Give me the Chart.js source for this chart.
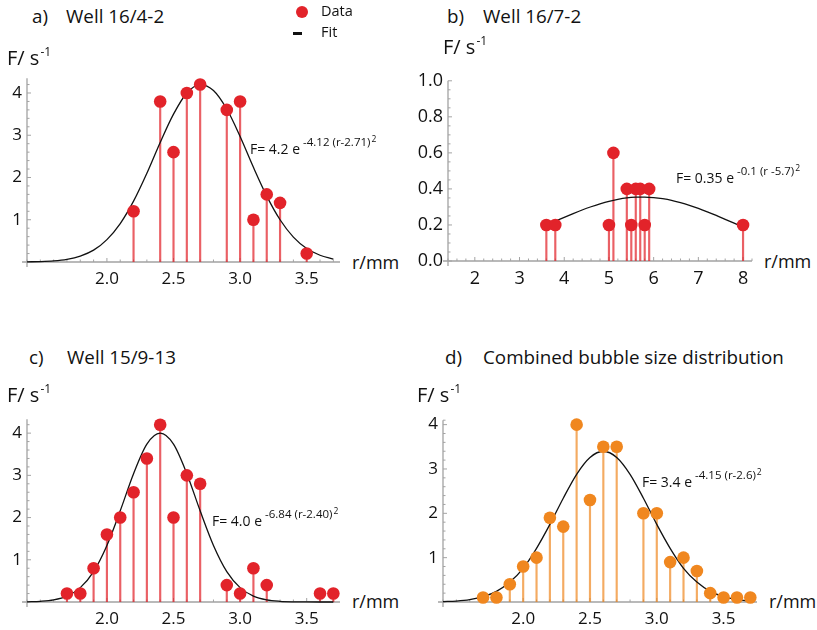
<!DOCTYPE html>
<html>
<head>
<meta charset="utf-8">
<script src="https://cdn.jsdelivr.net/npm/chart.js@4.4.0/dist/chart.umd.min.js"></script>
<style>
body { margin: 0; background: #fff; }
#fig { position: relative; width: 817px; height: 630px; overflow: hidden; font-family: "Open Sans", sans-serif; color: #111; }
#fig canvas { position: absolute; }
.t { position: absolute; white-space: nowrap; line-height: 1; }
</style>
</head>
<body>
<div id="fig"></div>
<script>
// panel a) Well 16/4-2
const rA = [2.2, 2.4, 2.5, 2.6, 2.7, 2.9, 3.0, 3.1, 3.2, 3.3, 3.5];
const fA = [1.2, 3.8, 2.6, 4.0, 4.2, 3.6, 3.8, 1.0, 1.6, 1.4, 0.2];
const fitRA = [1.4, 1.5, 1.6, 1.7, 1.8, 1.9, 2.0, 2.1, 2.2, 2.3, 2.4, 2.5, 2.6, 2.7, 2.8, 2.9, 3.0, 3.1, 3.2, 3.3, 3.4, 3.5, 3.6, 3.7];
const fitFA = [0.004, 0.01, 0.026, 0.063, 0.14, 0.28, 0.53, 0.91, 1.44, 2.10, 2.83, 3.50, 4.00, 4.20, 4.06, 3.62, 2.97, 2.24, 1.56, 1.00, 0.59, 0.32, 0.16, 0.07];

// panel b) Well 16/7-2
const rB = [3.6, 3.8, 5.0, 5.1, 5.4, 5.5, 5.6, 5.7, 5.8, 5.9, 8.0];
const fB = [0.2, 0.2, 0.2, 0.6, 0.4, 0.2, 0.4, 0.4, 0.2, 0.4, 0.2];
const fitRB = [3.6, 3.8, 4.0, 4.2, 4.4, 4.6, 4.8, 5.0, 5.2, 5.4, 5.6, 5.8, 6.0, 6.2, 6.4, 6.6, 6.8, 7.0, 7.2, 7.4, 7.6, 7.8, 8.0];
const fitFB = [0.199, 0.221, 0.242, 0.263, 0.283, 0.301, 0.317, 0.331, 0.342, 0.350, 0.354, 0.355, 0.352, 0.346, 0.337, 0.324, 0.309, 0.292, 0.273, 0.253, 0.231, 0.210, 0.189];

// panel c) Well 15/9-13
const rC = [1.7, 1.8, 1.9, 2.0, 2.1, 2.2, 2.3, 2.4, 2.5, 2.6, 2.7, 2.9, 3.0, 3.1, 3.2, 3.6, 3.7];
const fC = [0.2, 0.2, 0.8, 1.6, 2.0, 2.6, 3.4, 4.2, 2.0, 3.0, 2.8, 0.4, 0.2, 0.8, 0.4, 0.2, 0.2];
const fitRC = fitRA;
const fitFC = [0.004, 0.016, 0.05, 0.14, 0.34, 0.72, 1.34, 2.16, 3.04, 3.74, 4.00, 3.74, 3.04, 2.16, 1.34, 0.72, 0.34, 0.14, 0.05, 0.016, 0.004, 0.001, 0, 0];

// panel d) combined
const rD = [1.7, 1.8, 1.9, 2.0, 2.1, 2.2, 2.3, 2.4, 2.5, 2.6, 2.7, 2.9, 3.0, 3.1, 3.2, 3.3, 3.4, 3.5, 3.6, 3.7];
const fD = [0.1, 0.1, 0.4, 0.8, 1.0, 1.9, 1.7, 4.0, 2.3, 3.5, 3.5, 2.0, 2.0, 0.9, 1.0, 0.7, 0.2, 0.1, 0.1, 0.1];
const fitRD = fitRA;
const fitFD = [0.009, 0.022, 0.054, 0.12, 0.24, 0.45, 0.76, 1.21, 1.75, 2.34, 2.88, 3.26, 3.40, 3.26, 2.88, 2.34, 1.75, 1.21, 0.76, 0.45, 0.24, 0.12, 0.054, 0.022];

// tick labels
const xTicksR = [2.0, 2.5, 3.0, 3.5];
const yTicksF = [1, 2, 3, 4];
const xTicksB = [2, 3, 4, 5, 6, 7, 8];
const yTicksB = [0.0, 0.2, 0.4, 0.6, 0.8, 1.0];

const RED = '#e2232a', RED_STEM = 'rgba(226,35,42,0.72)';
const ORANGE = '#f0871f', ORANGE_STEM = 'rgba(240,135,31,0.7)';
const AXIS = '#a3a3a3';
const fig = document.getElementById('fig');

const zip = (xs, ys) => xs.map((x, i) => ({x: x, y: ys[i]}));

function tickLabel(list, fmt) {
    return function (v) {
        const hit = list.find(t => Math.abs(t - v) < 1e-6);
        return hit === undefined ? '' : fmt(hit);
    };
}

// little inward tick marks like the original plot, placed from the scales' ticks
const inwardTicks = {
    id: 'inwardTicks',
    beforeDatasetsDraw(chart) {
        const {ctx, chartArea: a, scales: {x, y}} = chart;
        ctx.save();
        ctx.strokeStyle = AXIS;
        ctx.lineWidth = 1.3;
        ctx.beginPath();
        ctx.moveTo(a.left - 5, a.bottom);
        ctx.lineTo(a.right, a.bottom);
        ctx.moveTo(a.left, a.top);
        ctx.lineTo(a.left, a.bottom + 5);
        ctx.stroke();
        ctx.lineWidth = 1;
        ctx.beginPath();
        x.ticks.forEach((t, i) => {
            const px = x.getPixelForTick(i);
            ctx.moveTo(px, a.bottom);
            ctx.lineTo(px, a.bottom - (t.label ? 4 : 2.5));
        });
        y.ticks.forEach((t, i) => {
            const py = y.getPixelForTick(i);
            ctx.moveTo(a.left, py);
            ctx.lineTo(a.left + (t.label ? 4 : 2.5), py);
        });
        ctx.stroke();
        ctx.restore();
    }
};

function makePanel(p) {
    const PT = 15, HX = 40, PR = 12;
    const [cl, ct, cr, cb] = p.area;
    const canvas = document.createElement('canvas');
    canvas.width = cr - cl + p.wy + PR;
    canvas.height = cb - ct + PT + HX;
    canvas.style.left = (cl - p.wy) + 'px';
    canvas.style.top = (ct - PT) + 'px';
    fig.appendChild(canvas);

    const pts = zip(p.r, p.f);
    const tickFont = {family: 'Open Sans', size: p.fs};

    new Chart(canvas, {
        type: 'bar',
        data: {
            datasets: [
                {
                    type: 'line', data: pts, showLine: false, order: 0, clip: false,
                    pointRadius: 6.3, pointBackgroundColor: p.color, pointBorderWidth: 0
                },
                {
                    type: 'line', data: zip(p.fitR, p.fitF), order: 1, clip: false,
                    borderColor: '#111', borderWidth: 1.3, pointRadius: 0,
                    cubicInterpolationMode: 'monotone'
                },
                {
                    type: 'bar', data: pts, order: 2,
                    backgroundColor: p.stem, borderWidth: 0, barThickness: 1.5
                }
            ]
        },
        options: {
            responsive: false,
            animation: false,
            events: [],
            layout: {padding: {left: 0, top: PT, right: PR, bottom: 0}},
            plugins: {legend: {display: false}, tooltip: {enabled: false}},
            scales: {
                x: {
                    type: 'linear', min: p.xmin, max: p.xmax, bounds: 'data', offset: false,
                    afterFit: s => { s.height = HX; },
                    border: {display: false},
                    grid: {display: false, drawTicks: false},
                    ticks: {
                        stepSize: p.xstep, autoSkip: false, includeBounds: false,
                        maxRotation: 0, minRotation: 0, padding: 7,
                        color: '#111', font: tickFont,
                        callback: tickLabel(p.xt, p.xfmt)
                    }
                },
                y: {
                    type: 'linear', min: 0, max: p.ymax, bounds: 'data',
                    afterFit: s => { s.width = p.wy; },
                    border: {display: false},
                    grid: {display: false, drawTicks: false},
                    ticks: {
                        stepSize: p.ystep, autoSkip: false, includeBounds: false, padding: 5,
                        color: '#111', font: tickFont,
                        callback: tickLabel(p.yt, p.yfmt)
                    }
                }
            }
        },
        plugins: [inwardTicks]
    });
}

const fmt1 = v => v.toFixed(1);
const fmt0 = v => String(v);

makePanel({area: [27, 78, 340, 262], wy: 27, fs: 17, r: rA, f: fA, fitR: fitRA, fitF: fitFA,
    color: RED, stem: RED_STEM, xmin: 1.4, xmax: 3.75, xstep: 0.1, ymax: 4.35, ystep: 0.2,
    xt: xTicksR, xfmt: fmt1, yt: yTicksF, yfmt: fmt0});
makePanel({area: [448, 80, 752, 261], wy: 40, fs: 18, r: rB, f: fB, fitR: fitRB, fitF: fitFB,
    color: RED, stem: RED_STEM, xmin: 1.4, xmax: 8.2, xstep: 0.2, ymax: 1.0, ystep: 0.05,
    xt: xTicksB, xfmt: fmt0, yt: yTicksB, yfmt: fmt1});
makePanel({area: [27, 419, 340, 602], wy: 27, fs: 17, r: rC, f: fC, fitR: fitRC, fitF: fitFC,
    color: RED, stem: RED_STEM, xmin: 1.4, xmax: 3.75, xstep: 0.1, ymax: 4.33, ystep: 0.2,
    xt: xTicksR, xfmt: fmt1, yt: yTicksF, yfmt: fmt0});
makePanel({area: [443, 420, 757, 602], wy: 40, fs: 17, r: rD, f: fD, fitR: fitRD, fitF: fitFD,
    color: ORANGE, stem: ORANGE_STEM, xmin: 1.4, xmax: 3.75, xstep: 0.1, ymax: 4.1, ystep: 0.2,
    xt: xTicksR, xfmt: fmt1, yt: yTicksF, yfmt: fmt0});

// text: x, baseline, font size, html
function txt(x, base, size, html) {
    const d = document.createElement('div');
    d.className = 't';
    d.style.left = x + 'px';
    d.style.top = (base - size * 0.888) + 'px';
    d.style.fontSize = size + 'px';
    d.innerHTML = html;
    fig.appendChild(d);
}
const fUnit = 'F/ s<span style="font-size:12px;position:relative;top:-9px;margin-left:1px">-1</span>';
const eq = (main, sup) => main +
    '<span style="font-size:11.5px;position:relative;top:-7.5px;margin-left:3px">' + sup +
    '<span style="font-size:8.5px;position:relative;top:-4.5px;margin-left:1px">2</span></span>';

txt(32, 24, 18.8, 'a)'); txt(66, 24, 18.8, 'Well 16/4-2');
txt(447, 24, 18.8, 'b)'); txt(483, 24, 18.8, 'Well 16/7-2');
txt(29, 365, 18.8, 'c)'); txt(67, 365, 18.8, 'Well 15/9-13');
txt(445, 365, 18.8, 'd)'); txt(483, 365, 18.8, 'Combined bubble size distribution');

txt(7, 66, 20, fUnit); txt(443, 55, 20, fUnit);
txt(7, 403, 20, fUnit); txt(417, 403, 20, fUnit);

txt(352, 269, 18, 'r/mm'); txt(764, 268, 18, 'r/mm');
txt(352, 608, 18, 'r/mm'); txt(769, 608, 18, 'r/mm');

txt(250, 154, 14, eq('F= 4.2 e', '-4.12 (r-2.71)'));
txt(676, 183, 14, eq('F= 0.35 e', '-0.1 (r -5.7)'));
txt(212, 526, 14, eq('F= 4.0 e', '-6.84 (r-2.40)'));
txt(642, 487, 14, eq('F= 3.4 e', '-4.15 (r-2.6)'));

// legend
const dot = document.createElement('div');
dot.style.cssText = 'position:absolute;left:295.7px;top:5.7px;width:12.6px;height:12.6px;border-radius:50%;background:' + RED;
fig.appendChild(dot);
const dash = document.createElement('div');
dash.style.cssText = 'position:absolute;left:293px;top:32px;width:9px;height:3px;background:#111';
fig.appendChild(dash);
txt(321, 17, 14.5, 'Data');
txt(321, 38, 14.5, 'Fit');
</script>
</body>
</html>
